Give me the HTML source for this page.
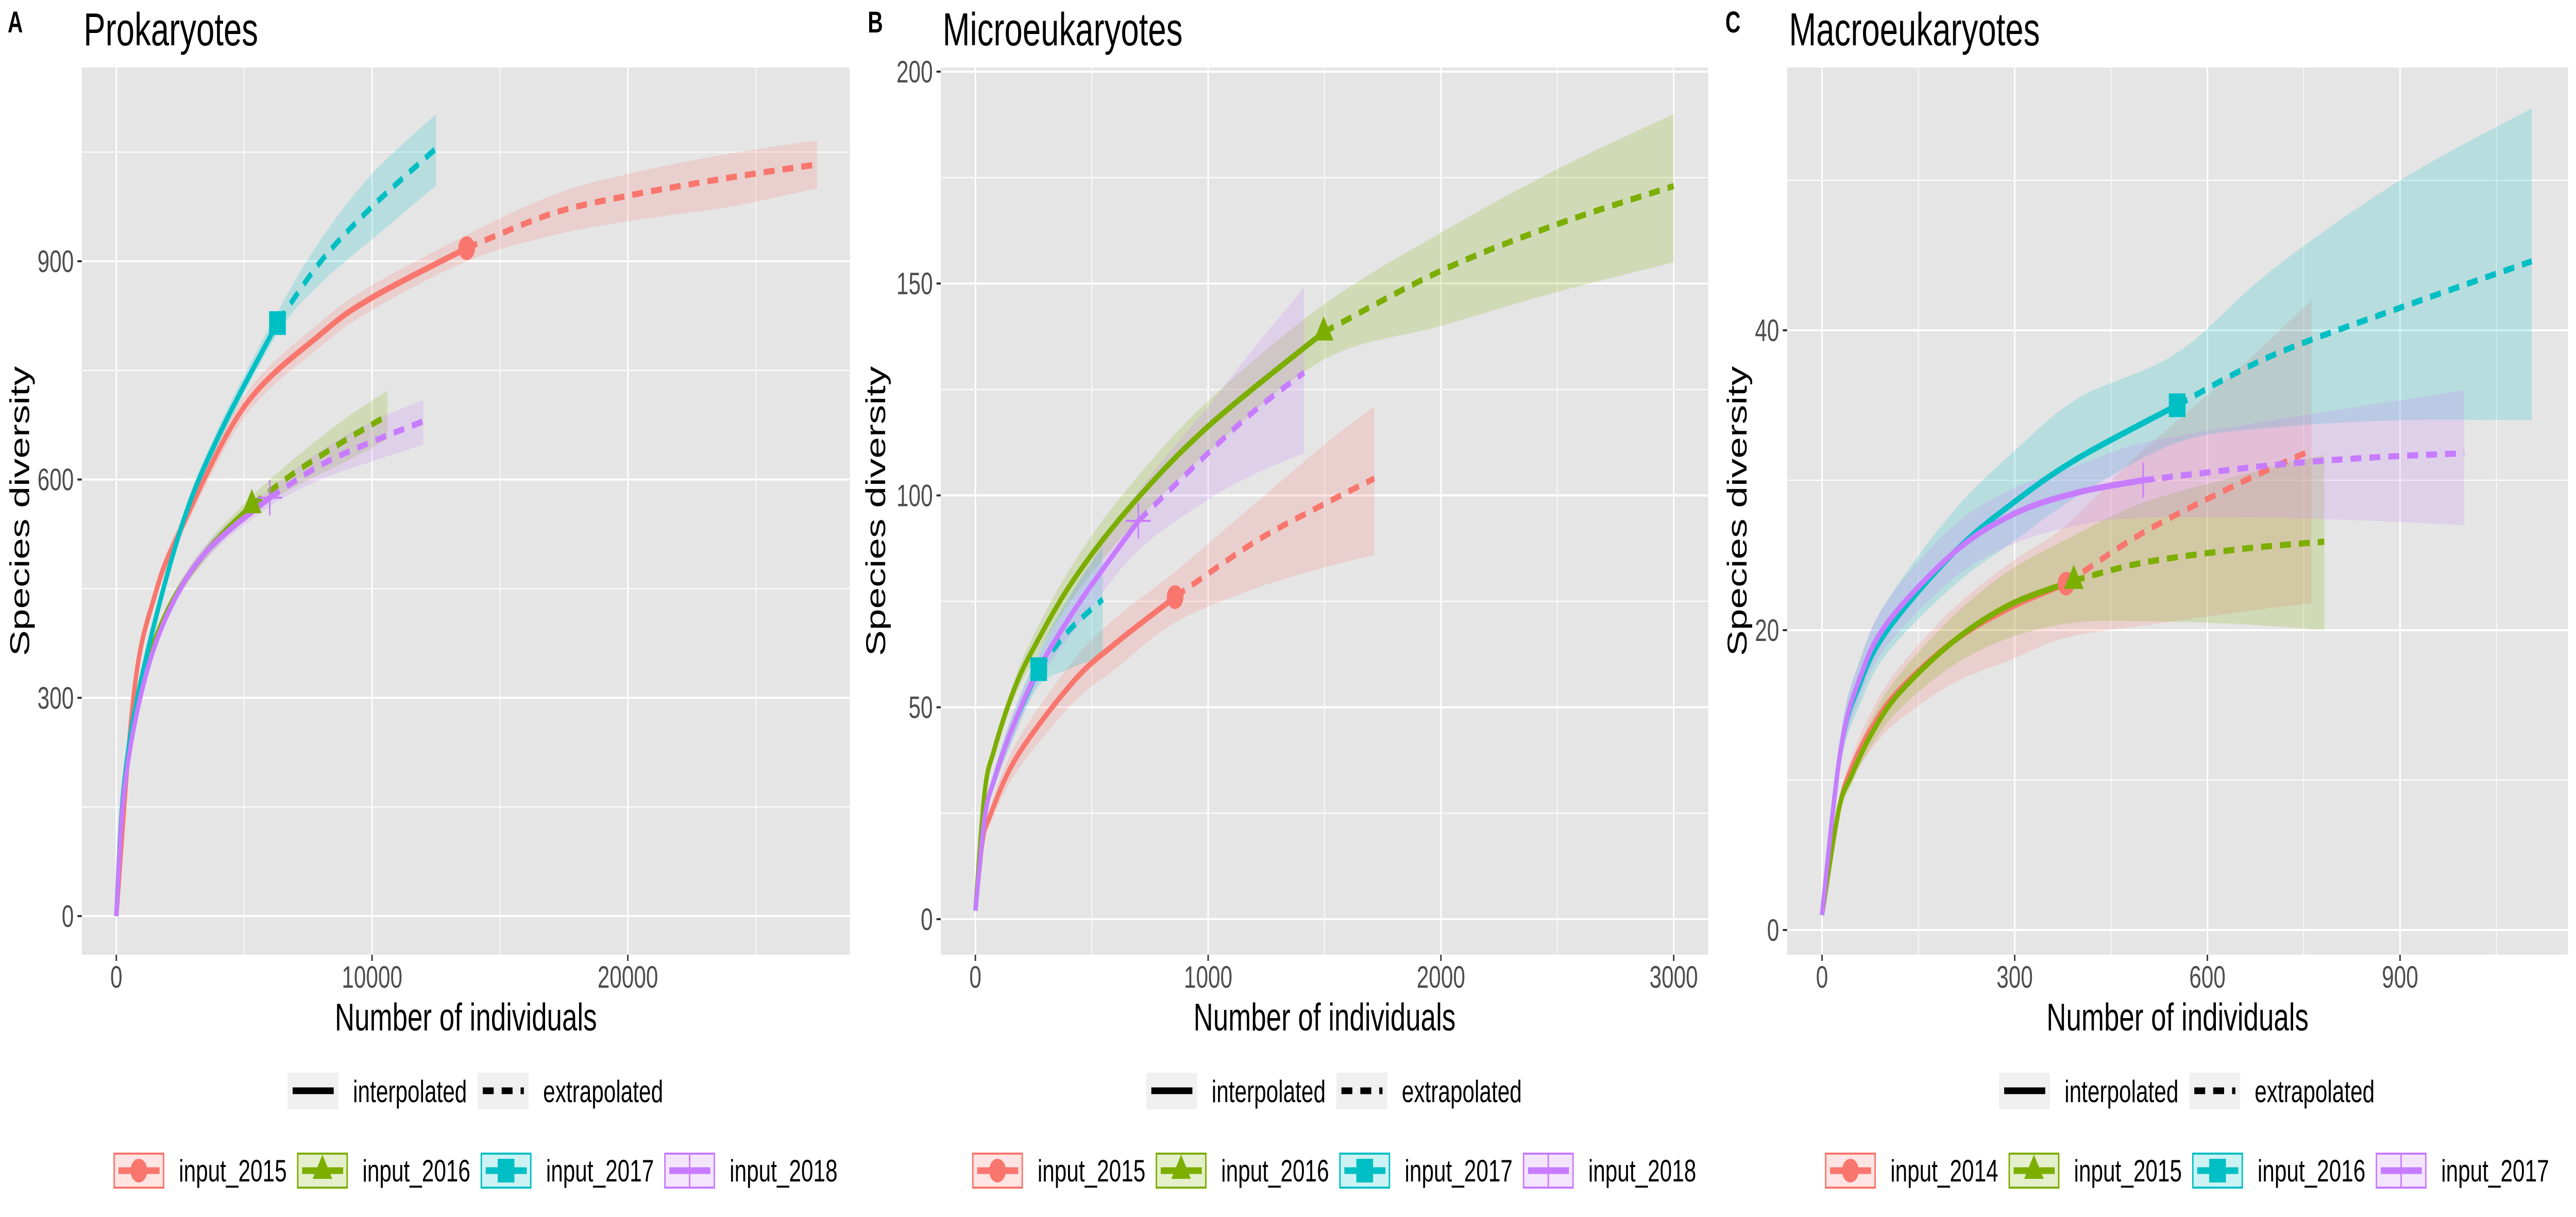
<!DOCTYPE html>
<html><head><meta charset="utf-8"><title>Species diversity rarefaction curves</title>
<style>
html,body{margin:0;padding:0;background:#fff;width:100%;height:100%;overflow:hidden;}
svg{display:block;width:100vw;height:100vh;font-family:"Liberation Sans",Arial,sans-serif;}
</style></head>
<body>
<svg id="chart" xmlns="http://www.w3.org/2000/svg" viewBox="0 0 7086 2362" preserveAspectRatio="none"></svg>
<script>
// ---------- Panel A: Prokaryotes ----------
const A_2015_x  = [0,700,1500,2500,5000,8000,10000,13700,17000,20000,24000,27400];
const A_2015_y  = [0,310,440,530,700,800,850,918,965,990,1015,1033];
const A_2015_lo = [0,300,428,518,685,783,833,900,935,955,975,1000];
const A_2015_hi = [0,320,452,542,715,817,867,936,990,1020,1048,1066];
const A_2015_ref = 7;
const A_2016_x  = [0,300,1000,2000,3500,5300,7000,9000,10600];
const A_2016_y  = [0,180,320,420,500,565,610,655,688];
const A_2016_lo = [0,172,312,412,490,553,590,625,655];
const A_2016_hi = [0,188,328,428,510,577,630,685,722];
const A_2016_ref = 5;
const A_2017_x  = [0,300,1000,2500,4000,6300,8000,10000,12500];
const A_2017_y  = [0,180,330,530,660,815,900,975,1055];
const A_2017_lo = [0,172,322,520,648,800,870,930,1004];
const A_2017_hi = [0,188,338,540,672,830,930,1020,1102];
const A_2017_ref = 5;
const A_2018_x  = [0,300,1000,2000,3500,6000,8000,10000,12000];
const A_2018_y  = [0,170,310,415,500,575,620,652,680];
const A_2018_lo = [0,163,302,407,490,563,600,625,648];
const A_2018_hi = [0,177,318,423,510,587,640,680,709];
const A_2018_ref = 5;
const A_xTicks = [0,10000,20000];
const A_xMinor = [5000,15000,25000];
const A_yTicks = [0,300,600,900];
const A_yMinor = [150,450,750,1050];
const A_labels = ["input_2015","input_2016","input_2017","input_2018"];

// ---------- Panel B: Microeukaryotes ----------
const B_2015_x  = [0,30,60,180,420,600,858,1200,1500,1714];
const B_2015_y  = [2,18,24,38.5,56,65,76,89,98,104];
const B_2015_lo = [2,17,22,35,51,59,70,78,83,86];
const B_2015_hi = [2,19,26,42,61,71,82,98,112,121];
const B_2015_ref = 6;
const B_2016_x  = [0,40,81,158,241,421,660,994,1496,2000,2500,3000];
const B_2016_y  = [2,30,40,53,63,80,97,116,138.5,153,164,173];
const B_2016_lo = [2,29,38,51,60,76,92,110,132,140,148,155];
const B_2016_hi = [2,31,42,55,66,84,102,122,145,162,177,190];
const B_2016_ref = 8;
const B_2017_x  = [0,40,81,158,272,400,547];
const B_2017_y  = [2,24,33,45,59,68,75.5];
const B_2017_lo = [2,23,31,42,55,59,62];
const B_2017_hi = [2,25,35,48,63,76,88];
const B_2017_ref = 4;
const B_2018_x  = [0,40,81,158,272,450,700,1000,1200,1412];
const B_2018_y  = [2,24,33,45,59,75,94,110,120,129];
const B_2018_lo = [2,23,31,42,56,70,87,99,105,110];
const B_2018_hi = [2,25,35,48,62,80,101,121,135,149];
const B_2018_ref = 6;
const B_xTicks = [0,1000,2000,3000];
const B_xMinor = [500,1500,2500];
const B_yTicks = [0,50,100,150,200];
const B_yMinor = [25,75,125,175];
const B_labels = ["input_2015","input_2016","input_2017","input_2018"];

// ---------- Panel C: Macroeukaryotes ----------
const C_2014_x  = [0,26,46,76,120,206,293,380,500,650,762];
const C_2014_y  = [1,8,10.8,13.4,16,19.3,21.5,23.1,26.5,29.8,32];
const C_2014_lo = [1,7.5,10,12,14,16.5,18,19.5,20.3,21.2,21.8];
const C_2014_hi = [1,8.5,11.5,14.5,17.5,21.5,24.5,27,32,37.5,42];
const C_2014_ref = 7;
const C_2015_x  = [0,26,46,76,120,206,293,392,500,650,782];
const C_2015_y  = [1,8,10.3,13,15.8,19.3,21.7,23.3,24.5,25.4,25.9];
const C_2015_lo = [1,7.5,9.7,12.2,14.7,17.7,19.5,20.5,20.6,20.4,20];
const C_2015_hi = [1,8.5,11,14,17,21,24,26.3,28.5,30.3,31.7];
const C_2015_ref = 7;
const C_2016_x  = [0,29,59,102,206,301,400,553,700,900,1105];
const C_2016_y  = [1,12,16.4,20,25.2,28.6,31.5,35,38.3,41.5,44.6];
const C_2016_lo = [1,11,15,18.5,23,26,29,32.5,33.5,34,34];
const C_2016_hi = [1,13,18,22,28,32,35.5,38.5,44,50,54.8];
const C_2016_ref = 7;
const C_2017_x  = [0,29,59,102,206,301,400,500,700,850,1000];
const C_2017_y  = [1,12,16.8,20.5,25.2,27.8,29.2,30,31,31.5,31.8];
const C_2017_lo = [1,11,15.5,19,23.5,25.8,27,27.5,27.5,27.3,27];
const C_2017_hi = [1,13,18,22,27,29.5,31,32.5,34,35,36];
const C_2017_ref = 7;
const C_xTicks = [0,300,600,900];
const C_xMinor = [150,450,750,1050];
const C_yTicks = [0,20,40];
const C_yMinor = [10,30,50];
const C_labels = ["input_2014","input_2015","input_2016","input_2017"];

// ---------- rendering ----------
const NS = "http://www.w3.org/2000/svg";
const svg = document.getElementById("chart");
const COLORS = ["#F8766D","#7CAE00","#00BFC4","#C77CFF"];
const SHAPES = ["circle","triangle","square","cross"];

function el(tag, attrs, parent) {
  const e = document.createElementNS(NS, tag);
  for (const k in attrs) e.setAttribute(k, attrs[k]);
  (parent || svg).appendChild(e);
  return e;
}
function txt(str, attrs, parent) {
  const t = el("text", attrs, parent);
  t.textContent = str;
  return t;
}
function smoothPath(pts, move) {
  let d = (move ? "M" : "L") + pts[0][0].toFixed(1) + "," + pts[0][1].toFixed(1);
  for (let i = 0; i < pts.length - 1; i++) {
    const p0 = pts[Math.max(0, i - 1)], p1 = pts[i], p2 = pts[i + 1], p3 = pts[Math.min(pts.length - 1, i + 2)];
    const c1x = p1[0] + (p2[0] - p0[0]) / 6, c1y = p1[1] + (p2[1] - p0[1]) / 6;
    const c2x = p2[0] - (p3[0] - p1[0]) / 6, c2y = p2[1] - (p3[1] - p1[1]) / 6;
    d += "C" + c1x.toFixed(1) + "," + c1y.toFixed(1) + " " + c2x.toFixed(1) + "," + c2y.toFixed(1) + " " + p2[0].toFixed(1) + "," + p2[1].toFixed(1);
  }
  return d;
}
function marker(shape, cx, cy, color, parent, name) {
  let m;
  if (shape === "circle") m = el("circle", {cx: cx, cy: cy, r: 23, fill: color}, parent);
  else if (shape === "square") m = el("rect", {x: cx - 23, y: cy - 23, width: 46, height: 46, fill: color}, parent);
  else if (shape === "triangle") m = el("polygon", {points: cx + "," + (cy - 31) + " " + (cx + 27) + "," + (cy + 16) + " " + (cx - 27) + "," + (cy + 16), fill: color}, parent);
  else {
    m = el("g", {}, parent);
    el("line", {x1: cx - 34, y1: cy, x2: cx + 34, y2: cy, stroke: color, "stroke-width": 4}, m);
    el("line", {x1: cx, y1: cy - 34, x2: cx, y2: cy + 34, stroke: color, "stroke-width": 4}, m);
  }
  
  
  return m;
}

function drawPanel(cfg) {
  const g = el("g", {});
  
  
  const sx = v => cfg.x0 + v * cfg.kx;
  const sy = v => cfg.y0 - v * cfg.ky;
  const clipId = "clip-" + cfg.id;
  const defs = el("defs", {}, g);
  const cp = el("clipPath", {id: clipId}, defs);
  el("rect", {x: cfg.left, y: cfg.top, width: cfg.right - cfg.left, height: cfg.bottom - cfg.top}, cp);

  const bg = el("rect", {x: cfg.left, y: cfg.top, width: cfg.right - cfg.left, height: cfg.bottom - cfg.top, fill: "#E5E5E5"}, g);
  
  
  const grid = el("g", {}, g);
  
  
  cfg.xMinor.forEach(v => el("line", {x1: sx(v), x2: sx(v), y1: cfg.top, y2: cfg.bottom, stroke: "#fff", "stroke-width": 2}, grid));
  cfg.yMinor.forEach(v => { if (sy(v) > cfg.top) el("line", {x1: cfg.left, x2: cfg.right, y1: sy(v), y2: sy(v), stroke: "#fff", "stroke-width": 2}, grid); });
  cfg.xTicks.forEach(v => el("line", {x1: sx(v), x2: sx(v), y1: cfg.top, y2: cfg.bottom, stroke: "#fff", "stroke-width": 4}, grid));
  cfg.yTicks.forEach(v => el("line", {x1: cfg.left, x2: cfg.right, y1: sy(v), y2: sy(v), stroke: "#fff", "stroke-width": 4}, grid));

  const plot = el("g", {"clip-path": "url(#" + clipId + ")"}, g);
  cfg.series.forEach((s, i) => {
    const up = s.x.map((v, j) => [sx(v), sy(s.hi[j])]);
    const dn = s.x.map((v, j) => [sx(v), sy(s.lo[j])]).reverse();
    const b = el("path", {d: smoothPath(up, true) + smoothPath(dn, false) + "Z", fill: COLORS[i], "fill-opacity": 0.2}, plot);
    
    
  });
  cfg.series.forEach((s, i) => {
    const pts = s.x.map((v, j) => [sx(v), sy(s.y[j])]);
    const interp = pts.slice(0, s.ref + 1), extrap = pts.slice(s.ref);
    const l1 = el("path", {d: smoothPath(interp, true), fill: "none", stroke: COLORS[i], "stroke-width": 12}, plot);
    
    
    const l2 = el("path", {d: smoothPath(extrap, true), fill: "none", stroke: COLORS[i], "stroke-width": 12, "stroke-dasharray": "30 22"}, plot);
    
    
  });
  cfg.series.forEach((s, i) => {
    marker(SHAPES[i], sx(s.x[s.ref]), sy(s.y[s.ref]), COLORS[i], plot, 'reference-point-' + cfg.labels[i]);
  });

  const ax = el("g", {}, g);
  
  
  cfg.xTicks.forEach(v => {
    el("line", {x1: sx(v), x2: sx(v), y1: cfg.bottom, y2: cfg.bottom + 12, stroke: "#333", "stroke-width": 4}, ax);
    const t = txt(String(v), {x: sx(v), y: 1917, "text-anchor": "middle", "font-size": 60, fill: "#4D4D4D"}, ax);
    
    
  });
  cfg.yTicks.forEach(v => {
    el("line", {x1: cfg.left - 12, x2: cfg.left, y1: sy(v), y2: sy(v), stroke: "#333", "stroke-width": 4}, ax);
    const t = txt(String(v), {x: cfg.left - 22, y: sy(v) + 21, "text-anchor": "end", "font-size": 60, fill: "#4D4D4D"}, ax);
    
    
  });
  const xt = txt("Number of individuals", {x: (cfg.left + cfg.right) / 2, y: 2000, "text-anchor": "middle", "font-size": 75, fill: "#000"}, g);
  
  
  const ymid = (cfg.top + cfg.bottom) / 2;
  const yt = txt("Species diversity", {x: cfg.yTitleX, y: ymid, "text-anchor": "middle", "font-size": 75, fill: "#000", transform: "rotate(-90 " + cfg.yTitleX + " " + ymid + ")"}, g);
  
  
  const tt = txt(cfg.title, {x: cfg.left + 5, y: 88, "font-size": 90, fill: "#000"}, g);
  
  
  const tag = txt(cfg.tag, {x: cfg.tagX, y: 63, "font-size": 58, "font-weight": "bold", fill: "#000"}, g);
  
  

  const lt = el("g", {}, g);
  
  
  ["interpolated", "extrapolated"].forEach((lab, k) => {
    const kx = cfg.ltX + k * 523;
    const e = el("g", {}, lt);
    
    
    el("rect", {x: kx, y: 2082, width: 140, height: 71, fill: "#F0F0F0"}, e);
    el("line", {x1: kx + 14, x2: kx + 127, y1: 2117, y2: 2117, stroke: "#000", "stroke-width": 13, "stroke-dasharray": k ? "30 22" : "none"}, e);
    txt(lab, {x: kx + 180, y: 2139, "font-size": 60, fill: "#000"}, e);
  });
  const cl = el("g", {}, g);
  
  
  cfg.labels.forEach((lab, i) => {
    const kx = cfg.clX + i * 505;
    const e = el("g", {}, cl);
    
    
    el("rect", {x: kx + 2, y: 2239, width: 136, height: 66, fill: "#fff"}, e);
    el("rect", {x: kx + 2, y: 2239, width: 136, height: 66, fill: COLORS[i], "fill-opacity": 0.2, stroke: COLORS[i], "stroke-width": 4}, e);
    el("line", {x1: kx + 14, x2: kx + 127, y1: 2272, y2: 2272, stroke: COLORS[i], "stroke-width": 13}, e);
    marker(SHAPES[i], kx + 70, 2272, COLORS[i], e, 'legend-key-marker');
    txt(lab, {x: kx + 180, y: 2293, "font-size": 60, fill: "#000"}, e);
  });
}

function ser(x, y, lo, hi, ref) { return {x: x, y: y, lo: lo, hi: hi, ref: ref}; }

drawPanel({id: "prokaryotes", title: "Prokaryotes", tag: "A", tagX: 21,
  left: 225, right: 2338, top: 131, bottom: 1853,
  x0: 320, kx: 703.5 / 10000, y0: 1778, ky: (1778 - 507) / 900,
  xTicks: A_xTicks, xMinor: A_xMinor, yTicks: A_yTicks, yMinor: A_yMinor,
  labels: A_labels, yTitleX: 80, ltX: 791, clX: 312,
  series: [ser(A_2015_x, A_2015_y, A_2015_lo, A_2015_hi, A_2015_ref),
           ser(A_2016_x, A_2016_y, A_2016_lo, A_2016_hi, A_2016_ref),
           ser(A_2017_x, A_2017_y, A_2017_lo, A_2017_hi, A_2017_ref),
           ser(A_2018_x, A_2018_y, A_2018_lo, A_2018_hi, A_2018_ref)]});

drawPanel({id: "microeukaryotes", title: "Microeukaryotes", tag: "B", tagX: 2387,
  left: 2588, right: 4699, top: 131, bottom: 1853,
  x0: 2683, kx: (4604 - 2683) / 3000, y0: 1784, ky: (1784 - 139) / 200,
  xTicks: B_xTicks, xMinor: B_xMinor, yTicks: B_yTicks, yMinor: B_yMinor,
  labels: B_labels, yTitleX: 2435, ltX: 3153, clX: 2674,
  series: [ser(B_2015_x, B_2015_y, B_2015_lo, B_2015_hi, B_2015_ref),
           ser(B_2016_x, B_2016_y, B_2016_lo, B_2016_hi, B_2016_ref),
           ser(B_2017_x, B_2017_y, B_2017_lo, B_2017_hi, B_2017_ref),
           ser(B_2018_x, B_2018_y, B_2018_lo, B_2018_hi, B_2018_ref)]});

drawPanel({id: "macroeukaryotes", title: "Macroeukaryotes", tag: "C", tagX: 4746,
  left: 4916, right: 7064, top: 131, bottom: 1853,
  x0: 5012, kx: 1590 / 900, y0: 1805, ky: 29.1,
  xTicks: C_xTicks, xMinor: C_xMinor, yTicks: C_yTicks, yMinor: C_yMinor,
  labels: C_labels, yTitleX: 4804, ltX: 5499, clX: 5020,
  series: [ser(C_2014_x, C_2014_y, C_2014_lo, C_2014_hi, C_2014_ref),
           ser(C_2015_x, C_2015_y, C_2015_lo, C_2015_hi, C_2015_ref),
           ser(C_2016_x, C_2016_y, C_2016_lo, C_2016_hi, C_2016_ref),
           ser(C_2017_x, C_2017_y, C_2017_lo, C_2017_hi, C_2017_ref)]});
</script>
</body></html>
